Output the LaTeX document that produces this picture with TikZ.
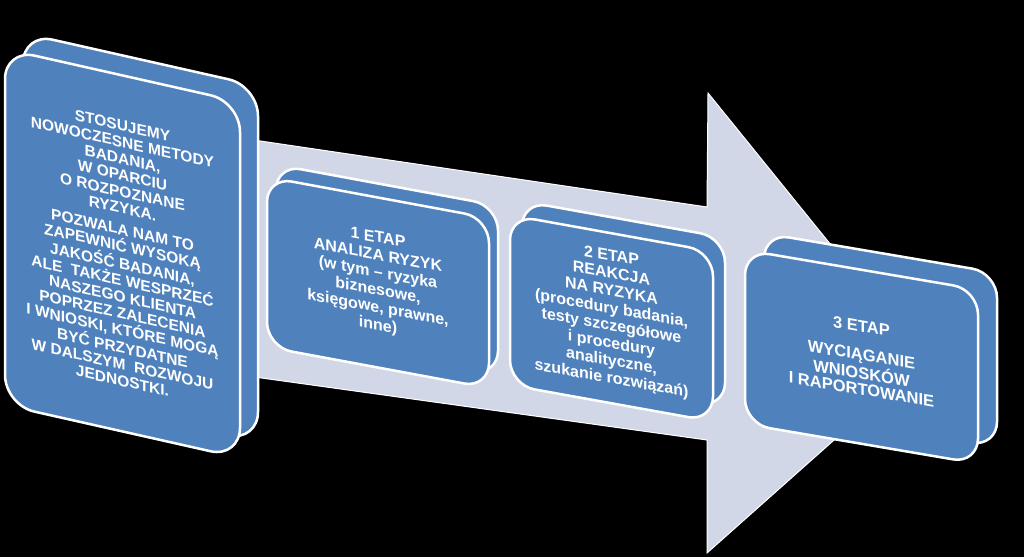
\documentclass[tikz,border=0pt]{standalone}
\usepackage{fontspec}
\setmainfont{Liberation Sans}
\definecolor{etapblue}{RGB}{79,129,189}
\definecolor{arrowgray}{RGB}{210,215,231}

\begin{document}
\begin{tikzpicture}[
    x=1pt, y=1pt,
    etapface/.style={fill=etapblue, draw=white, line width=2.5pt},
    etaptext/.style={text=white, font=\bfseries\fontsize{16}{17.5}\selectfont, align=center, inner sep=0pt, transform shape},
    bigarrow/.style={fill=arrowgray, draw=white, line width=1pt, line join=miter}
]
\useasboundingbox[fill=black] (0,0) rectangle (1024,557);

% big arrow behind the boxes
\draw[bigarrow] (240,419) -- (707,350) -- (708,464) -- (924,197) -- (707,4) -- (707,117) -- (240,182) -- cycle;

% intro box
\begin{scope}[shift={(5,152)}, yslant=-0.225]
\draw[etapface, rounded corners=30] (18,20) rectangle ++(235,356);
\draw[etapface, rounded corners=30] (0,0) rectangle (235,356);
\node[etaptext, font=\bfseries\fontsize{15.5}{16.5}\selectfont] (intro) at (117.5,178)
  {STOSUJEMY\\NOWOCZESNE METODY\\BADANIA,\\W OPARCIU\\O ROZPOZNANE\\RYZYKA.\\[5pt]
   POZWALA NAM TO\\ZAPEWNIĆ WYSOKĄ\\JAKOŚĆ BADANIA,\\ALE\ \ TAKŻE WESPRZEĆ\\NASZEGO KLIENTA\\
   POPRZEZ ZALECENIA\\I WNIOSKI, KTÓRE MOGĄ\\BYĆ PRZYDATNE\\W DALSZYM\ \ ROZWOJU\\JEDNOSTKI.};
\end{scope}

% stage 1
\begin{scope}[shift={(267,210)}, yslant=-0.185]
\draw[etapface, rounded corners=25] (9,14) rectangle ++(222,170);
\draw[etapface, rounded corners=25] (0,0) rectangle (222,170);
\node[etaptext] (etap1) at (111,85)
  {1 ETAP\\ANALIZA RYZYK\\(w tym – ryzyka\\biznesowe,\\księgowe, prawne,\\inne)};
\end{scope}

% stage 2
\begin{scope}[shift={(510,172)}, yslant=-0.18]
\draw[etapface, rounded corners=25] (12,16) rectangle ++(203,170);
\draw[etapface, rounded corners=25] (0,0) rectangle (203,170);
\node[etaptext] (etap2) at (101.5,85)
  {2 ETAP\\REAKCJA\\NA RYZYKA\\(procedury badania,\\testy szczegółowe\\i procedury\\analityczne,\\szukanie rozwiązań)};
\end{scope}

% stage 3
\begin{scope}[shift={(745,133)}, yslant=-0.17]
\draw[etapface, rounded corners=25] (19,20) rectangle ++(233,174);
\draw[etapface, rounded corners=25] (0,0) rectangle (233,174);
\node[etaptext, font=\bfseries\fontsize{16.5}{15.5}\selectfont] (etap3) at (116.5,86)
  {3 ETAP\\[13pt]WYCIĄGANIE\\WNIOSKÓW\\I RAPORTOWANIE};
\end{scope}
\end{tikzpicture}
\end{document}
